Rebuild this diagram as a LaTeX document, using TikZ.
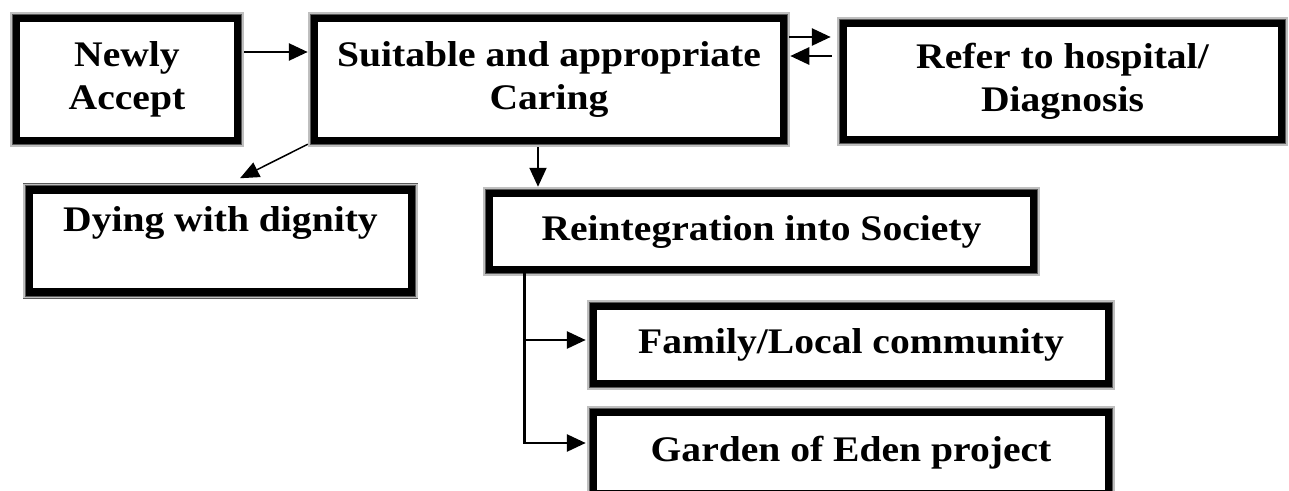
\documentclass[tikz,border=0pt]{standalone}
\usepackage{fontspec}
\setmainfont{Liberation Serif}[FakeStretch=1.1]
\usepackage{tikz}
\usetikzlibrary{arrows.meta}

\tikzset{
  box/.style={draw=black, line width=7.5pt, fill=white, align=center,
    font=\bfseries\fontsize{36}{43}\selectfont, inner sep=0pt},
  frame/.style={draw=black!65, line width=0.8pt, double=black!25, double distance=1.6pt},
  arr/.style={line width=2.8pt, -{Triangle[length=19pt,width=17pt]}},
  thinarr/.style={line width=1.5pt, -{Triangle[length=19pt,width=16pt]}}
}

\begin{document}
\begin{tikzpicture}[x=1pt,y=-1pt]

\useasboundingbox (0,0) rectangle (1289,490);

\node[box, minimum width=221pt, minimum height=122pt] (newly) at (127,79.5) {Newly\\Accept};
\node[box, minimum width=469pt, minimum height=122pt] (suit) at (549,79.5) {Suitable and appropriate\\Caring};
\node[box, minimum width=438pt, minimum height=116pt] (refer) at (1062.5,81.5) {Refer to hospital/\\Diagnosis};
\node[box, minimum width=382pt, minimum height=102pt] (dying) at (220.5,241) {Dying with dignity\\~};
\node[box, minimum width=544pt, minimum height=76pt] (reint) at (761.5,231.5) {Reintegration into Society};
\node[box, minimum width=515pt, minimum height=77pt] (family) at (851,345) {Family/Local community};
\node[box, minimum width=515pt, minimum height=81pt] (garden) at (851,453) {Garden of Eden project};

% outer rims
\foreach \n in {newly,suit,refer,dying,reint,family,garden}
  \draw[frame] ([shift={(-1.6pt,1.6pt)}]\n.north west) rectangle ([shift={(1.6pt,-1.6pt)}]\n.south east);

\draw[arr, shorten <=3pt, shorten >=3pt] ([yshift=27.5pt]newly.east) -- ([yshift=27.5pt]suit.west);
\draw[arr, shorten <=2pt, shorten >=9pt] ([yshift=42.5pt]suit.east) -- ([yshift=42.5pt]suit.east -| refer.west);
\draw[arr, shorten <=8pt, shorten >=3pt] ([yshift=23.5pt]suit.east -| refer.west) -- ([yshift=23.5pt]suit.east);
\draw[thinarr] ([xshift=-3pt]suit.south west) -- ([shift={(19.5pt,8pt)}]dying.north);
\draw[line width=2pt, -{Triangle[length=19pt,width=17pt]}, shorten <=3pt, shorten >=3pt]
  ([xshift=-11pt]suit.south) -- ([xshift=-11pt]suit.south |- reint.north);

% branches
\draw[arr, shorten >=4pt] ([xshift=39pt]reint.south west) |- ([yshift=5pt]family.west);
\draw[arr, shorten >=4pt] ([xshift=39pt]reint.south west) |- ([yshift=10pt]garden.west);

\end{tikzpicture}
\end{document}
